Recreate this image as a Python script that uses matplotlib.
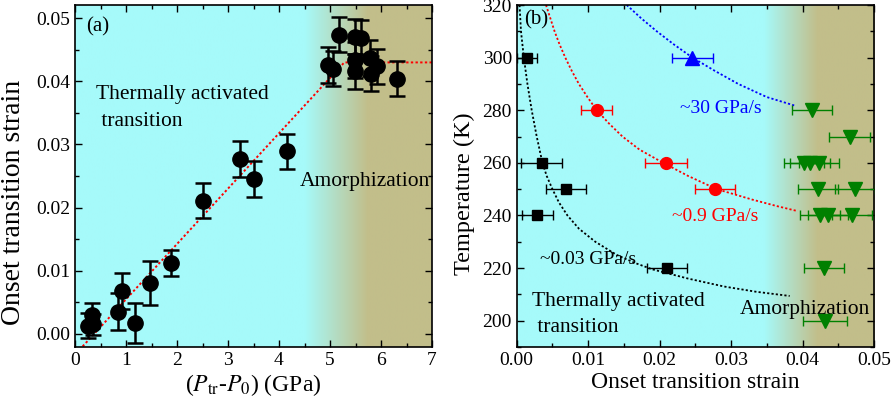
import numpy as np
import matplotlib
matplotlib.use("Agg")
import matplotlib.pyplot as plt
from matplotlib.colors import LinearSegmentedColormap
from matplotlib.ticker import MultipleLocator, FormatStrFormatter

plt.rcParams['font.family'] = ['Liberation Serif', 'DejaVu Serif']
plt.rcParams['mathtext.fontset'] = 'stix'

# ---------------- Panel (a) data ----------------
a_pressure = [0.25, 0.33, 0.35, 0.85, 0.92, 1.18, 1.47, 1.89, 2.51, 3.23, 3.51, 4.15,
              4.97, 5.05, 5.18, 5.49, 5.61, 5.49, 5.49, 5.78, 5.80, 5.92, 6.31]
a_strain = [0.0013, 0.0029, 0.0015, 0.0035, 0.0068, 0.0017, 0.0080, 0.0112, 0.0211, 0.0277,
            0.0245, 0.0289, 0.0426, 0.0420, 0.0474, 0.0471, 0.0469, 0.0434, 0.0416, 0.0437,
            0.0412, 0.0424, 0.0404]
a_err = [0.0020, 0.0020, 0.0017, 0.0029, 0.0029, 0.0031, 0.0035, 0.0021, 0.0028, 0.0028,
         0.0028, 0.0028, 0.0028, 0.0028, 0.0028, 0.0028, 0.0028, 0.0028, 0.0028, 0.0028,
         0.0028, 0.0028, 0.0028]
a_fit_x = [0.15, 5.28, 7.0]
a_fit_y = [-0.0020, 0.0430, 0.0430]

# ---------------- Panel (b) data ----------------
b_black_x = [0.0014, 0.0035, 0.0069, 0.0029, 0.0211]
b_black_T = [300, 260, 250, 240, 220]
b_black_err = [0.0014, 0.0029, 0.0028, 0.0022, 0.0028]

b_red_x = [0.0112, 0.0209, 0.0277]
b_red_T = [280, 260, 250]
b_red_err = [0.0022, 0.0029, 0.0028]

b_blue_x = [0.0246]
b_blue_T = [300]
b_blue_err = [0.0028]

b_green_x = [0.0413, 0.0466, 0.0402, 0.0411, 0.0423, 0.0421, 0.0473,
             0.0425, 0.0436, 0.0469, 0.0430, 0.0431]
b_green_T = [280, 270, 260, 260, 260, 250, 250, 240, 240, 240, 220, 200]
b_green_err = [0.0028, 0.0029, 0.0028, 0.0028, 0.0028, 0.0028, 0.0028,
               0.0028, 0.0028, 0.0028, 0.0028, 0.0031]

# dotted guide curves
curve_black_x = [0.0004, 0.0006, 0.0010, 0.0015, 0.0021, 0.0028, 0.0036, 0.0042, 0.0050,
                 0.0059, 0.0071, 0.0087, 0.0110, 0.0140, 0.0165, 0.0190, 0.0240, 0.0290,
                 0.0335, 0.0382]
curve_black_T = [320, 310, 300, 290, 280, 270, 260, 255, 250, 245, 240, 235, 230, 225,
                 222, 219.5, 216, 213, 211, 209.4]
curve_red_x = [0.0041, 0.0047, 0.0053, 0.0060, 0.0068, 0.0077, 0.0087, 0.0099, 0.0112,
               0.0129, 0.0148, 0.0172, 0.0205, 0.0240, 0.0280, 0.0330, 0.0365, 0.0391]
curve_red_T = [320, 315, 310, 305, 300, 295, 290, 285, 280, 275, 270, 265, 260, 255, 250,
               246, 243.5, 241.8]
curve_blue_x = [0.0154, 0.0174, 0.0196, 0.0220, 0.0246, 0.0277, 0.0310, 0.0350, 0.0391]
curve_blue_T = [320, 315, 310, 305, 300, 295, 290, 285, 281.6]

CYAN = (166/255, 250/255, 250/255)
OLIVE = (194/255, 190/255, 138/255)
cmap = LinearSegmentedColormap.from_list('bg', [CYAN, OLIVE])


def background(ax, x0, x1, g0, g1, y0, y1):
    xs = np.linspace(x0, x1, 600)
    t = np.clip((xs - g0) / (g1 - g0), 0, 1)
    ax.imshow(t[np.newaxis, :], extent=(x0, x1, y0, y1), aspect='auto',
              cmap=cmap, vmin=0, vmax=1, origin='lower', zorder=0, interpolation='bilinear')


def style_ticks(ax):
    ax.tick_params(which='both', direction='in', top=True, right=True, labelsize=14)
    ax.tick_params(which='major', length=5, width=1)
    ax.tick_params(which='minor', length=3, width=1)
    for s in ax.spines.values():
        s.set_linewidth(1.2)


fig = plt.figure(figsize=(8.91, 4.09), dpi=100)
axa = fig.add_axes([75/891, 62/409, 357/891, 342/409])
axb = fig.add_axes([516.7/891, 62/409, 357.3/891, 342/409])

dots = (0, (1.2, 1.2))

# ---- panel (a)
ya0, ya1 = -0.0021, 0.0521
axa.set_xlim(0, 7)
axa.set_ylim(ya0, ya1)
background(axa, 0, 7, 4.5, 5.75, ya0, ya1)
axa.plot(a_fit_x, a_fit_y, color='red', linestyle=dots, linewidth=1.4, zorder=2)
axa.errorbar(a_pressure, a_strain, yerr=a_err, fmt='o', color='black', markersize=11,
             elinewidth=1.8, capsize=5.5, capthick=1.8, zorder=3)
axa.xaxis.set_major_locator(MultipleLocator(1))
axa.xaxis.set_minor_locator(MultipleLocator(0.5))
axa.yaxis.set_major_locator(MultipleLocator(0.01))
axa.yaxis.set_minor_locator(MultipleLocator(0.005))
axa.yaxis.set_major_formatter(FormatStrFormatter('%.2f'))
style_ticks(axa)
axa.set_xlabel(r'($\mathit{P}_{\mathrm{tr}}$-$\mathit{P}_{0}$) (GPa)', fontsize=17, labelpad=2)
axa.set_ylabel('Onset transition strain', fontsize=20)
axa.yaxis.set_label_coords(-0.137, 0.424)
axa.text(0.03, 0.965, '(a)', transform=axa.transAxes, fontsize=15, va='top', ha='left')
axa.text(0.42, 0.0394, 'Thermally activated\n transition', fontsize=15.5, va='top', ha='left',
         linespacing=1.55)
axa.text(4.4, 0.0242, 'Amorphization', fontsize=15.5, va='center', ha='left', clip_on=True)

# ---- panel (b)
yb0, yb1 = 190, 320
axb.set_xlim(0, 0.05)
axb.set_ylim(yb0, yb1)
background(axb, 0, 0.05, 0.0345, 0.042, yb0, yb1)
axb.plot(curve_black_x, curve_black_T, color='black', linestyle=dots, linewidth=1.3, zorder=2)
axb.plot(curve_red_x, curve_red_T, color='red', linestyle=dots, linewidth=1.3, zorder=2)
axb.plot(curve_blue_x, curve_blue_T, color='blue', linestyle=dots, linewidth=1.3, zorder=2)
eb = dict(elinewidth=1.0, capsize=3.5, capthick=1.0, zorder=3)
axb.errorbar(b_black_x, b_black_T, xerr=b_black_err, fmt='s', color='black', markersize=7.5, **eb)
axb.errorbar(b_red_x, b_red_T, xerr=b_red_err, fmt='o', color='red', markersize=8.5, **eb)
axb.errorbar(b_blue_x, b_blue_T, xerr=b_blue_err, fmt='^', color='blue', markersize=9.5, **eb)
axb.errorbar(b_green_x, b_green_T, xerr=b_green_err, fmt='v', color='green', markersize=10, **eb)
axb.xaxis.set_major_locator(MultipleLocator(0.01))
axb.xaxis.set_minor_locator(MultipleLocator(0.005))
axb.xaxis.set_major_formatter(FormatStrFormatter('%.2f'))
axb.yaxis.set_major_locator(MultipleLocator(20))
axb.yaxis.set_minor_locator(MultipleLocator(10))
style_ticks(axb)
axb.set_xlabel('Onset transition strain', fontsize=17, labelpad=2)
axb.set_ylabel('Temperature (K)', fontsize=17.5)
axb.yaxis.set_label_coords(-0.117, 0.449)
axb.text(0.02, 0.985, '(b)', transform=axb.transAxes, fontsize=15, va='top', ha='left')
axb.text(0.0228, 280.5, '~30 GPa/s', color='blue', fontsize=14, va='center', ha='left')
axb.text(0.0218, 239.5, '~0.9 GPa/s', color='red', fontsize=14, va='center', ha='left')
axb.text(0.0032, 223.3, '~0.03 GPa/s', color='black', fontsize=14, va='center', ha='left')
axb.text(0.0022, 211.0, 'Thermally activated\n transition', fontsize=15.5, va='top', ha='left',
         linespacing=1.5)
axb.text(0.0312, 204.3, 'Amorphization', fontsize=15.5, va='center', ha='left')

fig.savefig('out.png', dpi=100)
